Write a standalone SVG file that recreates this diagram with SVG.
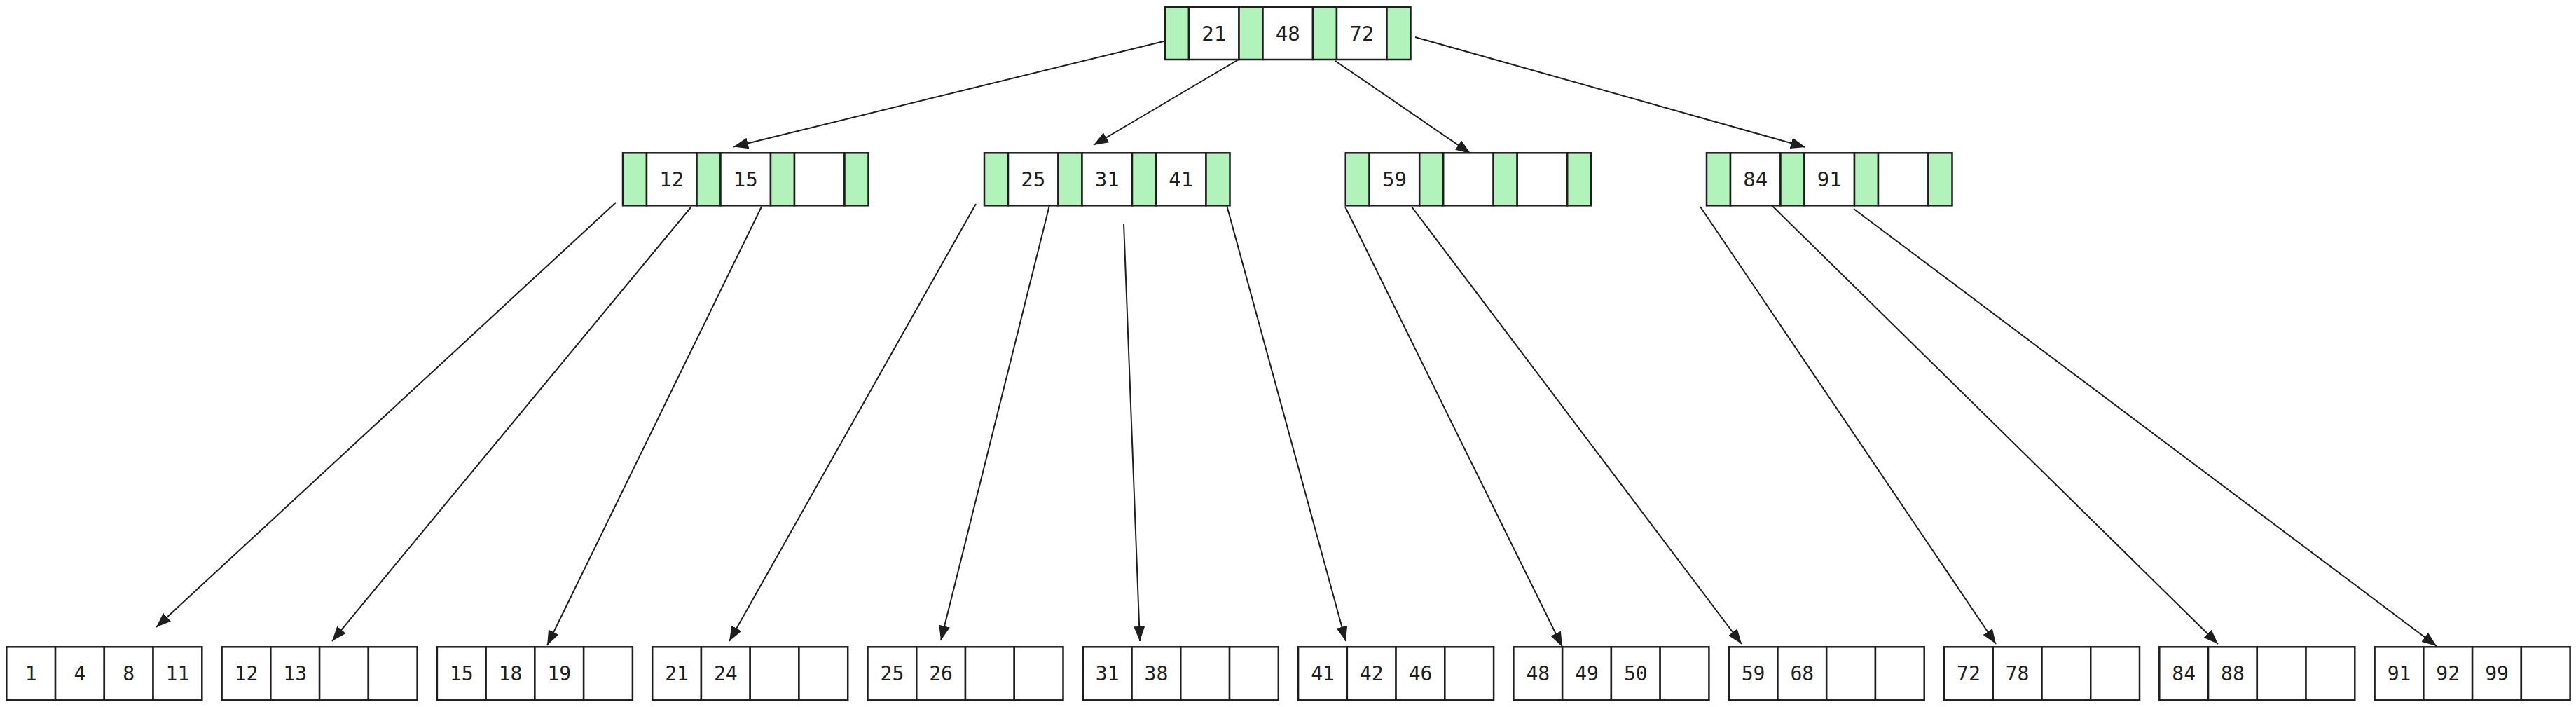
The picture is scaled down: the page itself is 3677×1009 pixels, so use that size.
<svg xmlns="http://www.w3.org/2000/svg" width="3677" height="1009" viewBox="0 0 3677 1009">
<defs>
<style>
.g{fill:#b2f2bb;stroke:#1e1e1e;stroke-width:2.5}
.w{fill:#ffffff;stroke:#1e1e1e;stroke-width:2.5}
.t{font-family:"DejaVu Sans Mono","Liberation Mono",monospace;font-size:29px;fill:#1e1e1e;text-anchor:middle}
.lt{font-family:"DejaVu Sans Mono","Liberation Mono",monospace;font-size:28px;fill:#1e1e1e;text-anchor:middle}
.e{fill:none;stroke:#1e1e1e;stroke-width:2}
</style>
<marker id="ah" markerUnits="userSpaceOnUse" markerWidth="22" markerHeight="16" refX="21" refY="8" orient="auto">
<path d="M0,0 L21,8 L0,16 z" fill="#1e1e1e"/>
</marker>
<g id="inode">
<rect class="g" x="0" y="0" width="34" height="75"/>
<rect class="w" x="34" y="0" width="71.5" height="75"/>
<rect class="g" x="105.5" y="0" width="34" height="75"/>
<rect class="w" x="139.5" y="0" width="71.5" height="75"/>
<rect class="g" x="211" y="0" width="34" height="75"/>
<rect class="w" x="245" y="0" width="71.5" height="75"/>
<rect class="g" x="316.5" y="0" width="34" height="75"/>
</g>
<g id="leaf">
<rect class="w" x="0" y="0" width="69.75" height="76"/>
<rect class="w" x="69.75" y="0" width="69.75" height="76"/>
<rect class="w" x="139.5" y="0" width="69.75" height="76"/>
<rect class="w" x="209.25" y="0" width="69.75" height="76"/>
</g>
</defs>
<rect width="3677" height="1009" fill="#ffffff"/>

<g id="connectors">
<path class="e" marker-end="url(#ah)" d="M1665,58 L1047,209.5"/>
<path class="e" marker-end="url(#ah)" d="M1778,79 L1561,207"/>
<path class="e" marker-end="url(#ah)" d="M1906,87 L2099,219"/>
<path class="e" marker-end="url(#ah)" d="M2020,53 L2577,210"/>
<path class="e" marker-end="url(#ah)" d="M879,289 L223,895"/>
<path class="e" marker-end="url(#ah)" d="M986,296 L474,915"/>
<path class="e" marker-end="url(#ah)" d="M1087,295 L781,921"/>
<path class="e" marker-end="url(#ah)" d="M1393,291 L1041,915"/>
<path class="e" marker-end="url(#ah)" d="M1499,289 L1343,914"/>
<path class="e" marker-end="url(#ah)" d="M1604,319 L1627,915"/>
<path class="e" marker-end="url(#ah)" d="M1751,293 L1921,915"/>
<path class="e" marker-end="url(#ah)" d="M1920,295 L2230,923"/>
<path class="e" marker-end="url(#ah)" d="M2015,295 L2486,919"/>
<path class="e" marker-end="url(#ah)" d="M2427,295 L2849,919"/>
<path class="e" marker-end="url(#ah)" d="M2528,292 L3166,919"/>
<path class="e" marker-end="url(#ah)" d="M2646,298 L3478,922"/>
</g>

<g id="root" transform="translate(1663,10)">
<use href="#inode"/>
<text class="t" x="69.75" y="48">21</text>
<text class="t" x="175.25" y="48">48</text>
<text class="t" x="280.75" y="48">72</text>
</g>
<g id="n12_15" transform="translate(889,218.3)">
<use href="#inode"/>
<text class="t" x="69.75" y="48">12</text>
<text class="t" x="175.25" y="48">15</text>
</g>
<g id="n25_31_41" transform="translate(1405,218.3)">
<use href="#inode"/>
<text class="t" x="69.75" y="48">25</text>
<text class="t" x="175.25" y="48">31</text>
<text class="t" x="280.75" y="48">41</text>
</g>
<g id="n59" transform="translate(1920.7,218.3)">
<use href="#inode"/>
<text class="t" x="69.75" y="48">59</text>
</g>
<g id="n84_91" transform="translate(2436,218.3)">
<use href="#inode"/>
<text class="t" x="69.75" y="48">84</text>
<text class="t" x="175.25" y="48">91</text>
</g>

<g id="leaf1" transform="translate(9.3,923.3)"><use href="#leaf"/>
<text class="lt" x="34.9" y="48">1</text><text class="lt" x="104.6" y="48">4</text><text class="lt" x="174.4" y="48">8</text><text class="lt" x="244.1" y="48">11</text></g>
<g id="leaf2" transform="translate(316.6,923.3)"><use href="#leaf"/>
<text class="lt" x="34.9" y="48">12</text><text class="lt" x="104.6" y="48">13</text></g>
<g id="leaf3" transform="translate(623.9,923.3)"><use href="#leaf"/>
<text class="lt" x="34.9" y="48">15</text><text class="lt" x="104.6" y="48">18</text><text class="lt" x="174.4" y="48">19</text></g>
<g id="leaf4" transform="translate(931.2,923.3)"><use href="#leaf"/>
<text class="lt" x="34.9" y="48">21</text><text class="lt" x="104.6" y="48">24</text></g>
<g id="leaf5" transform="translate(1238.5,923.3)"><use href="#leaf"/>
<text class="lt" x="34.9" y="48">25</text><text class="lt" x="104.6" y="48">26</text></g>
<g id="leaf6" transform="translate(1545.8,923.3)"><use href="#leaf"/>
<text class="lt" x="34.9" y="48">31</text><text class="lt" x="104.6" y="48">38</text></g>
<g id="leaf7" transform="translate(1853.1,923.3)"><use href="#leaf"/>
<text class="lt" x="34.9" y="48">41</text><text class="lt" x="104.6" y="48">42</text><text class="lt" x="174.4" y="48">46</text></g>
<g id="leaf8" transform="translate(2160.4,923.3)"><use href="#leaf"/>
<text class="lt" x="34.9" y="48">48</text><text class="lt" x="104.6" y="48">49</text><text class="lt" x="174.4" y="48">50</text></g>
<g id="leaf9" transform="translate(2467.7,923.3)"><use href="#leaf"/>
<text class="lt" x="34.9" y="48">59</text><text class="lt" x="104.6" y="48">68</text></g>
<g id="leaf10" transform="translate(2775,923.3)"><use href="#leaf"/>
<text class="lt" x="34.9" y="48">72</text><text class="lt" x="104.6" y="48">78</text></g>
<g id="leaf11" transform="translate(3082.3,923.3)"><use href="#leaf"/>
<text class="lt" x="34.9" y="48">84</text><text class="lt" x="104.6" y="48">88</text></g>
<g id="leaf12" transform="translate(3389.6,923.3)"><use href="#leaf"/>
<text class="lt" x="34.9" y="48">91</text><text class="lt" x="104.6" y="48">92</text><text class="lt" x="174.4" y="48">99</text></g>
</svg>
